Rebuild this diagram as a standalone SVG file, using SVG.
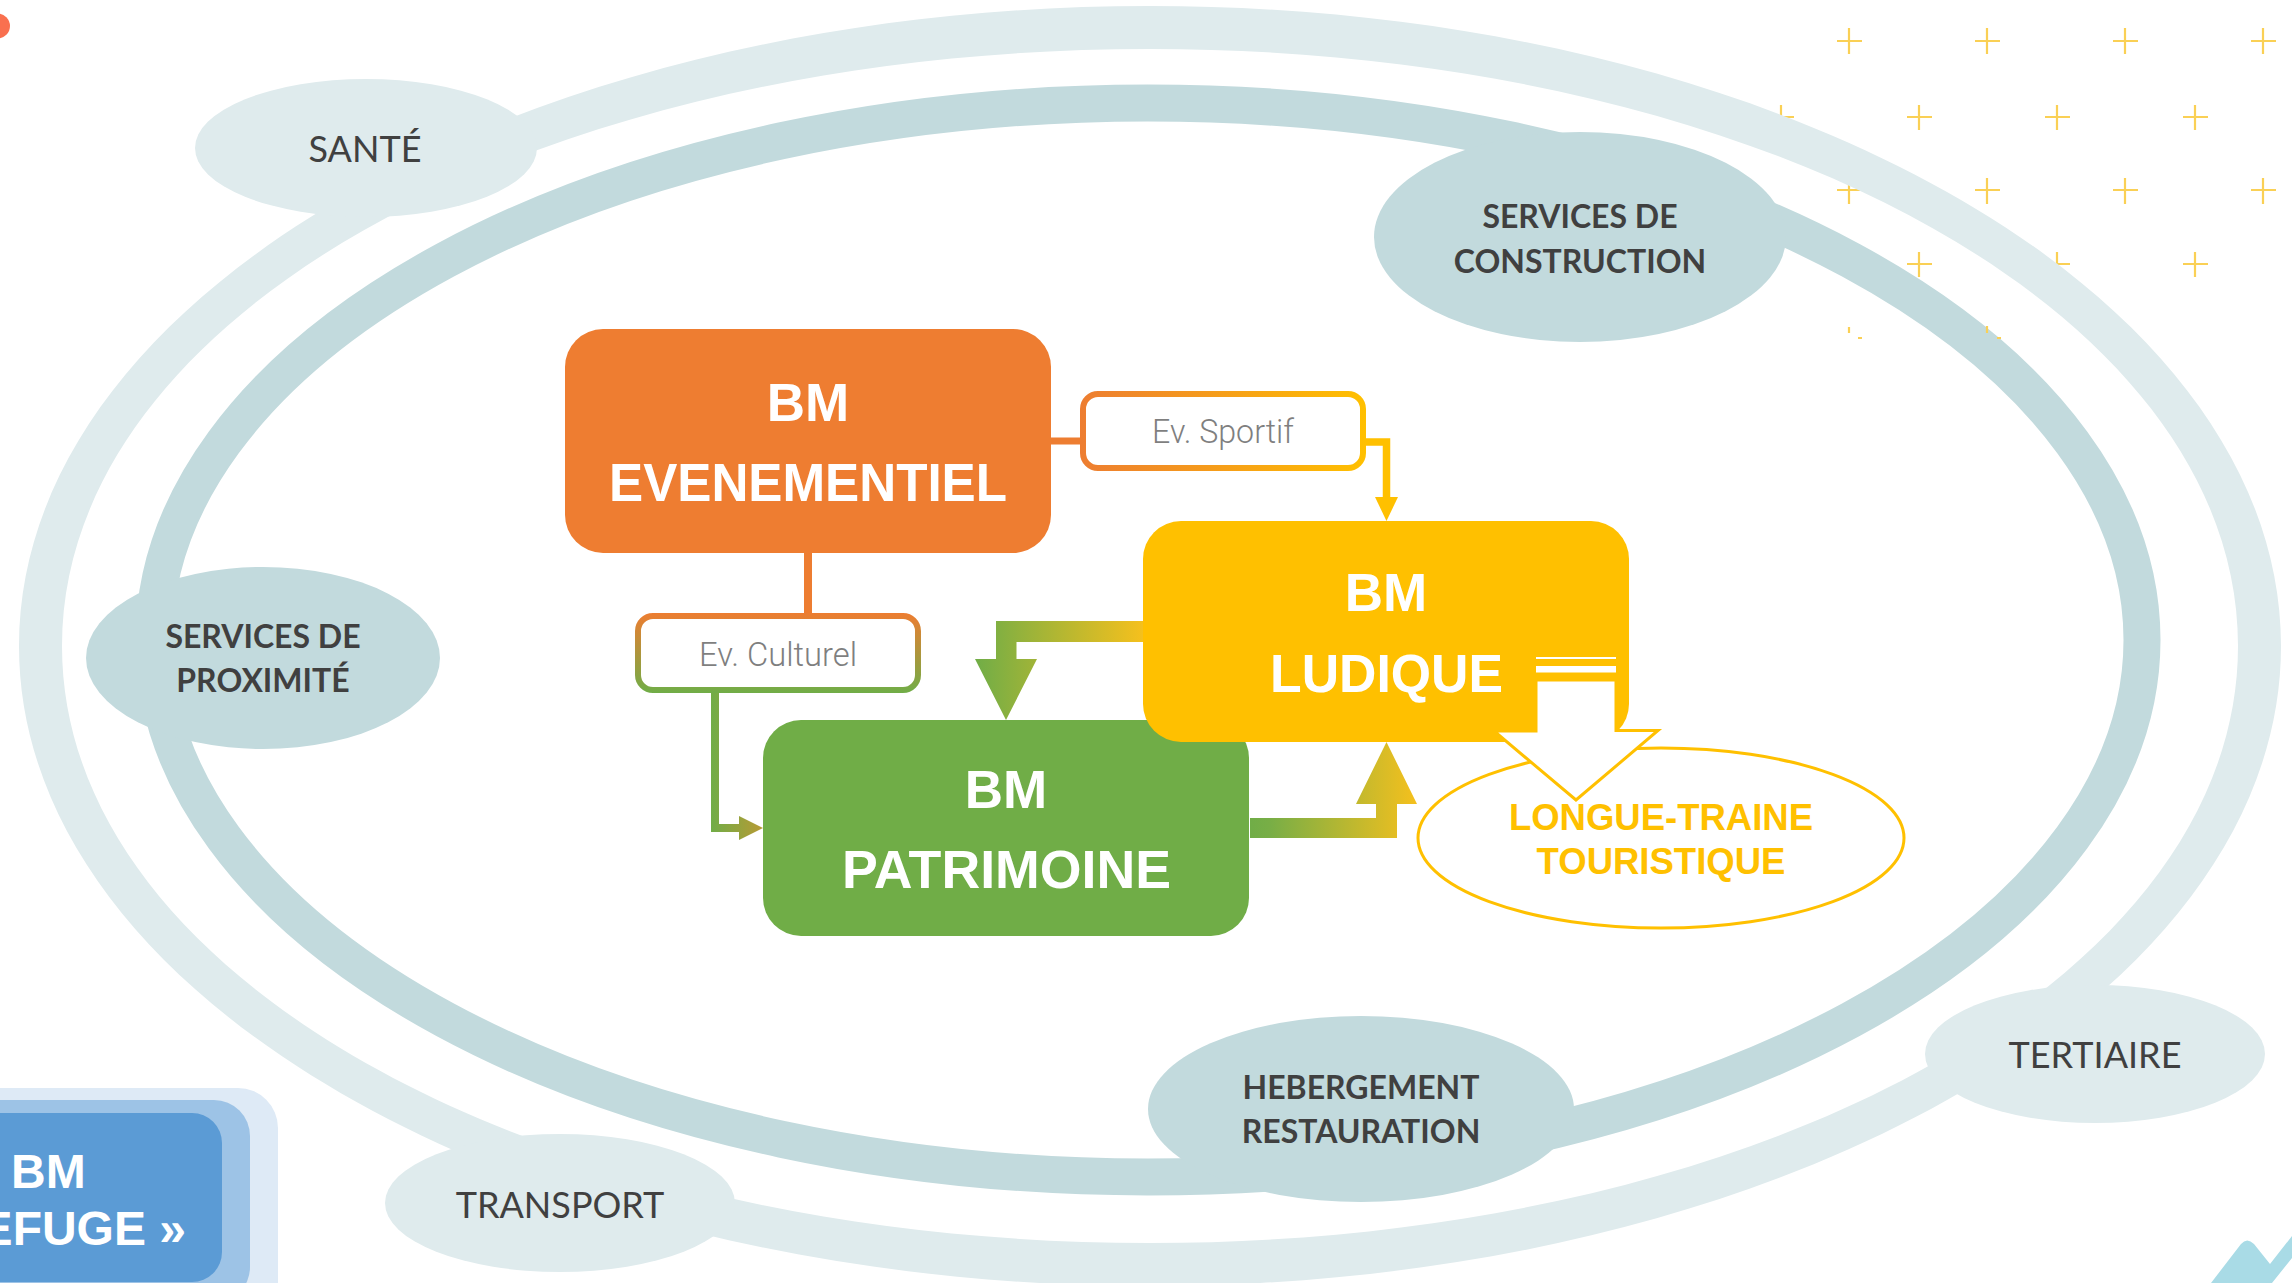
<svg xmlns="http://www.w3.org/2000/svg" width="2292" height="1283" viewBox="0 0 2292 1283">
<style>
.cross{stroke:#fad055;stroke-width:2.2;fill:none}
.lite{fill:#dfebed}.mid{fill:#c2dadd}
.lab{font-family:Lato,"Liberation Sans",sans-serif;font-size:36px;fill:#404040;text-anchor:middle}
.labb{font-family:Lato,"Liberation Sans",sans-serif;font-size:32px;font-weight:700;fill:#404040;text-anchor:middle}
.title{font-family:"Liberation Sans",Arial,sans-serif;font-size:53px;font-weight:700;fill:#fff;text-anchor:middle}
.ev{font-family:Roboto,"Liberation Sans",Arial,sans-serif;font-size:33px;font-weight:300;fill:#7f7f7f;text-anchor:middle}
.lt{font-family:"Liberation Sans",Arial,sans-serif;font-size:36.5px;font-weight:700;fill:#ffc000;text-anchor:middle}
</style>
<defs>
<linearGradient id="gSport" gradientUnits="userSpaceOnUse" x1="1080" y1="0" x2="1366" y2="0"><stop offset="0" stop-color="#ed7d31"/><stop offset="1" stop-color="#ffc000"/></linearGradient>
<linearGradient id="gCult" gradientUnits="userSpaceOnUse" x1="0" y1="613" x2="0" y2="693"><stop offset="0" stop-color="#ed7d31"/><stop offset="1" stop-color="#70ad47"/></linearGradient>
<linearGradient id="gGreenArrow" gradientUnits="userSpaceOnUse" x1="711" y1="0" x2="763" y2="0"><stop offset="0" stop-color="#70ad47"/><stop offset="1" stop-color="#b89a35"/></linearGradient>
<linearGradient id="gLP" gradientUnits="userSpaceOnUse" x1="975" y1="0" x2="1143" y2="0"><stop offset="0" stop-color="#70ad47"/><stop offset="1" stop-color="#f5c01d"/></linearGradient>
<linearGradient id="gPL" gradientUnits="userSpaceOnUse" x1="1250" y1="0" x2="1417" y2="0"><stop offset="0" stop-color="#70ad47"/><stop offset="0.12" stop-color="#78ae46"/><stop offset="1" stop-color="#f5c01d"/></linearGradient>
</defs>

<g id="decor-crosses" class="cross">
<path d="M1837 41h25M1849 28v26M1975 41h25M1987 28v26M2113 41h25M2125 28v26M2251 41h25M2263 28v26"/>
<path d="M1769 117h25M1781 105v25M1907 117h25M1919 105v25M2045 117h25M2057 105v25M2183 117h25M2195 105v25"/>
<path d="M1837 190h25M1849 178v26M1975 190h25M1987 178v26M2113 190h25M2125 178v26M2251 190h25M2263 178v26"/>
<path d="M1769 264h25M1781 252v25M1907 264h25M1919 252v25M2045 264h25M2057 252v25M2183 264h25M2195 252v25"/>
</g>
<g id="decor-dot"><circle cx="-2.5" cy="26" r="12.5" fill="#f9704f"/></g>
<g id="decor-corner"><path d="M2211 1283L2241 1244Q2247 1237 2254 1244L2270 1264L2292 1236V1258L2272 1283Z" fill="#a9dbe6"/></g>

<g id="rings">
<path fill="#dfebed" fill-rule="evenodd" d="M19 646C19 292.5 525.4 6 1150 6C1774.6 6 2281 292.5 2281 646C2281 999.5 1774.6 1286 1150 1286C525.4 1286 19 999.5 19 646Z
M62 646C62 312 542 49 1150 49C1758 49 2238 312 2238 646C2238 980 1758 1243 1150 1243C542 1243 62 980 62 646Z"/>
<ellipse cx="1148" cy="640" rx="994" ry="537" fill="#fff" stroke="#c2dadd" stroke-width="37"/>
</g>
<g id="decor-fragments" class="cross">
<path d="M1849 327v6M1858 338h4M1987 326v7M1997 338h4"/>
</g>

<g id="node-sante"><ellipse class="lite" cx="366" cy="148" rx="171" ry="69"/><text class="lab" x="365" y="162">SANTÉ</text></g>
<g id="node-construction"><ellipse class="mid" cx="1580" cy="237" rx="206" ry="105"/><text class="labb" x="1580" y="228">SERVICES DE</text><text class="labb" x="1580" y="273">CONSTRUCTION</text></g>
<g id="node-proximite"><ellipse class="mid" cx="263" cy="658" rx="177" ry="91"/><text class="labb" x="263" y="648">SERVICES DE</text><text class="labb" x="263" y="692">PROXIMITÉ</text></g>
<g id="node-tertiaire"><ellipse class="lite" cx="2095" cy="1054" rx="170" ry="69"/><text class="lab" x="2095" y="1068">TERTIAIRE</text></g>
<g id="node-hebergement"><ellipse class="mid" cx="1361" cy="1109" rx="213" ry="93"/><text class="labb" x="1361" y="1099">HEBERGEMENT</text><text class="labb" x="1361" y="1143">RESTAURATION</text></g>
<g id="node-transport"><ellipse class="lite" cx="560" cy="1203" rx="175" ry="69"/><text class="lab" x="560" y="1218">TRANSPORT</text></g>

<g id="node-refuge">
<rect x="-120" y="1088" width="398" height="260" rx="40" fill="#deeaf6"/>
<rect x="-120" y="1100" width="370" height="203" rx="36" fill="#9dc3e6"/>
<rect x="-120" y="1113" width="342" height="169" rx="30" fill="#5b9bd5"/>
<text class="title" style="font-size:48px;text-anchor:start" x="11" y="1188">BM</text>
<text class="title" style="font-size:48px;text-anchor:end" x="186" y="1245">EFUGE »</text>
</g>

<g id="connectors">
<path d="M1051 441H1085" stroke="#ed7d31" stroke-width="7" fill="none"/>
<path d="M1366 442H1386.5V500" stroke="#ffc000" stroke-width="7.5" fill="none"/>
<path d="M1375 497H1398L1386.5 521Z" fill="#ffc000"/>
<path d="M808 553V615" stroke="#ed7d31" stroke-width="8" fill="none"/>
<path d="M715 692V828H742" stroke="url(#gGreenArrow)" stroke-width="8" fill="none"/>
<path d="M739 816L763 828L739 840Z" fill="url(#gGreenArrow)"/>
<path d="M1143 621H996V659H975L1006 720L1037 659H1016.5V642H1143Z" fill="url(#gLP)"/>
<path d="M1250 818H1376V804H1356L1386.5 742L1417 804H1397V838H1250Z" fill="url(#gPL)"/>
</g>

<g id="node-evsportif"><rect x="1083" y="394" width="280" height="74" rx="15" fill="#fff" stroke="url(#gSport)" stroke-width="6"/><text class="ev" x="1223" y="443" textLength="142" lengthAdjust="spacingAndGlyphs">Ev. Sportif</text></g>
<g id="node-evculturel"><rect x="638" y="616" width="280" height="74" rx="15" fill="#fff" stroke="url(#gCult)" stroke-width="6"/><text class="ev" x="778" y="666" textLength="158" lengthAdjust="spacingAndGlyphs">Ev. Culturel</text></g>

<g id="node-evenementiel"><rect x="565" y="329" width="486" height="224" rx="38" fill="#ee7d31"/><text class="title" x="808" y="421">BM</text><text class="title" x="808" y="501" textLength="398" lengthAdjust="spacingAndGlyphs">EVENEMENTIEL</text></g>
<g id="node-patrimoine"><rect x="763" y="720" width="486" height="216" rx="38" fill="#70ad47"/><text class="title" x="1006" y="808">BM</text><text class="title" x="1006.5" y="888" textLength="329" lengthAdjust="spacingAndGlyphs">PATRIMOINE</text></g>
<g id="node-ludique"><rect x="1143" y="521" width="486" height="221" rx="38" fill="#ffc000"/><text class="title" x="1386" y="611">BM</text><text class="title" x="1386.5" y="692" textLength="233" lengthAdjust="spacingAndGlyphs">LUDIQUE</text></g>

<g id="node-longue-traine">
<ellipse cx="1661" cy="838" rx="243" ry="90" fill="#fff" stroke="#ffc000" stroke-width="3"/>
<path d="M1536 680H1616V730.5H1658L1576 800L1494 731H1536Z" fill="#fff" stroke="#ffc000" stroke-width="3"/>
<rect x="1536" y="657" width="80" height="2" fill="#fff"/>
<rect x="1536" y="666" width="80" height="6.5" fill="#fff"/>
<text class="lt" x="1661" y="830">LONGUE-TRAINE</text><text class="lt" x="1661" y="874">TOURISTIQUE</text>
</g>
</svg>
